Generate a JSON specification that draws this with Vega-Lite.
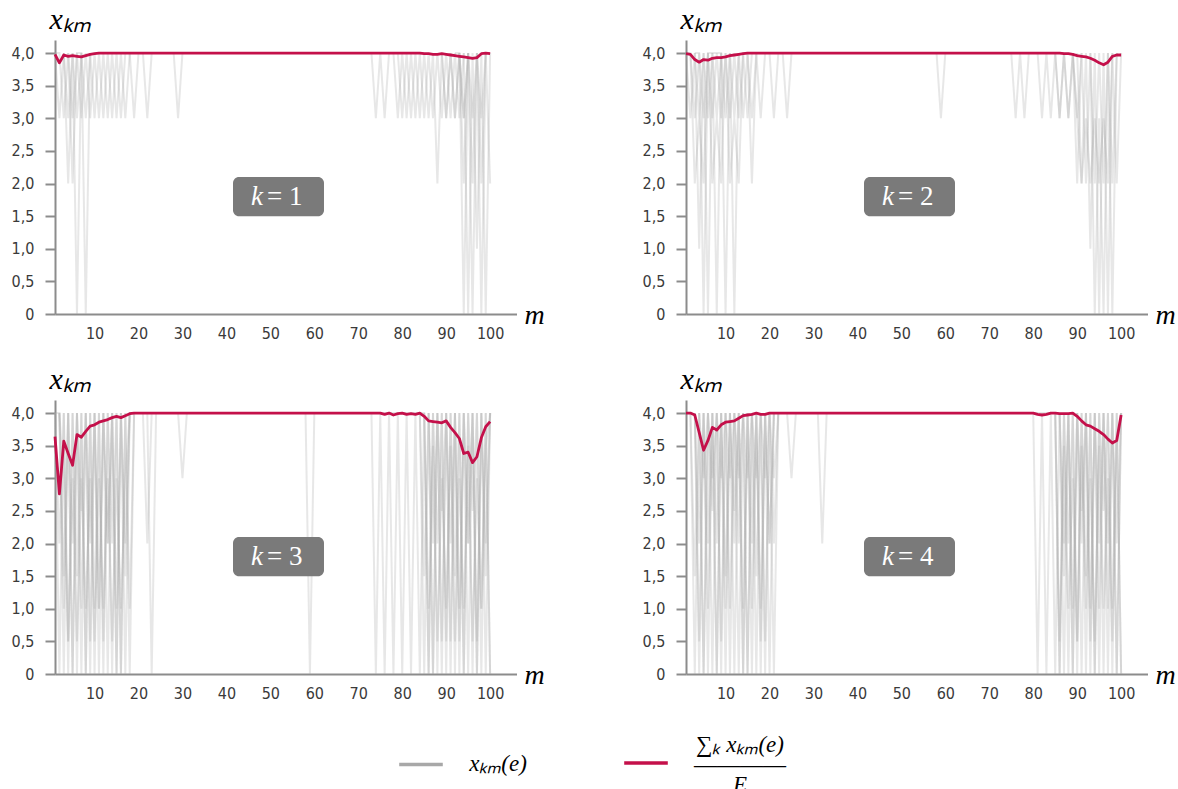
{
"$schema": "https://vega.github.io/schema/vega-lite/v6.json",
"padding": {"left": 11, "top": 4, "right": 0, "bottom": 0},
"background": "white",
"config": {
  "view": {"stroke": null},
  "axisX": {"tickCount": 10, "grid": false, "ticks": false, "tickSize": 0,
            "domainColor": "#8c8c8c", "domainWidth": 2, "labelOverlap": false,
            "labelFont": "DejaVu Sans Condensed", "labelFontSize": 16, "labelColor": "#3a3a3a", "labelPadding": 11,
            "titleFont": "Liberation Serif", "titleFontStyle": "italic", "titleFontWeight": "normal",
            "titleFontSize": 28, "titleColor": "black", "titleX": 479, "titleY": 9, "titleAlign": "center", "titleBaseline": "alphabetic"},
  "axisY": {"tickCount": 9, "grid": false, "labelOverlap": false,
            "labelExpr": "datum.value == 0 ? '0' : replace(format(datum.value, '.1f'), '.', ',')",
            "tickSize": 10, "tickColor": "#8c8c8c", "tickWidth": 2,
            "domainColor": "#8c8c8c", "domainWidth": 2,
            "labelFont": "DejaVu Sans Condensed", "labelFontSize": 16, "labelColor": "#3a3a3a", "labelPadding": 11,
            "titleFont": "Liberation Serif", "titleFontStyle": "italic", "titleFontWeight": "normal",
            "titleFontSize": 30, "titleColor": "black", "titleAngle": 0, "titleX": -6, "titleY": -12,
            "titleAlign": "left", "titleBaseline": "alphabetic"}
},
"data": {"values": [
{"t":"g","k":1,"e":"a","m":[1,2,3,4,5,6,7,8,9,10,11,12,13,14,15,16,17],"v":[4,3,4,3,4,3,4,3,4,3,4,3,4,3,4,3,4]},
{"t":"g","k":1,"e":"b","m":[1,2,3,4,5,6,7,8,9,10,11,12,13,14,15,16,17,18],"v":[4,4,3,4,3,4,3,4,3,4,3,4,3,4,3,4,3,4]},
{"t":"g","k":1,"e":"c","m":[3,4,5,6,7],"v":[4,2,4,0,4]},
{"t":"g","k":1,"e":"d","m":[4,5,6,7,8,9],"v":[4,2,4,4,0,4]},
{"t":"g","k":1,"e":"e","m":[18,19,20,21,22,23,28,29,30],"v":[4,3,4,4,3,4,4,3,4]},
{"t":"g","k":1,"e":"f","m":[73,74,75,76,77,78,79,80,81,82,83,84,85,86,87,88,89,90,91,92,93,94],"v":[4,3,4,3,4,4,3,4,3,4,3,4,3,4,3,4,3,4,3,4,3,4]},
{"t":"g","k":1,"e":"g","m":[79,80,81,82,83,84,85,86,87,88,89,90,91,92,93,94,95],"v":[4,3,4,3,4,3,4,3,4,2,4,3,4,3,4,3,4]},
{"t":"g","k":1,"e":"h","m":[92,93,94,95,96,97,98,99],"v":[4,4,2,4,2,4,2,4]},
{"t":"g","k":1,"e":"i","m":[93,94,95,96,97,98,99,100],"v":[4,0,4,0,4,0,4,2]},
{"t":"g","k":1,"e":"j","m":[94,95,96,97,98,99,100],"v":[4,0,4,1,4,0,4]},
{"t":"g","k":1,"e":"k","m":[89,90,91,92,93,94,95,96,97,98,99,100],"v":[4,3,4,3,4,3,4,3,4,3,4,4]},
{"t":"g","k":2,"e":"a","m":[1,2,3,4,5,6,7,8,9,10,11,12,13,14,15,16,17,18,19,20,21,22,23,24,25],"v":[4,3,4,3,4,3,4,3,4,3,4,3,4,3,4,3,4,3,4,4,3,4,4,3,4]},
{"t":"g","k":2,"e":"b","m":[1,2,3,4,5,6,7,8,9,10,11,12,13,14,15,16],"v":[4,4,3,4,3,4,3,4,3,4,3,4,3,4,3,4]},
{"t":"g","k":2,"e":"c","m":[2,3,4,5,6,7,8,9,10,11,12,13,14,15],"v":[4,2,3,2,4,2,3,2,4,2,3,2,4,4]},
{"t":"g","k":2,"e":"d","m":[3,4,5,6,7,8,9],"v":[4,1,4,0,4,0,4]},
{"t":"g","k":2,"e":"e","m":[3,4,5,6,7,8,9,10,11,12,13],"v":[4,4,0,4,4,4,4,0,4,0,4]},
{"t":"g","k":2,"e":"f","m":[15,16,17,58,59,60],"v":[4,2,4,4,3,4]},
{"t":"g","k":2,"e":"g","m":[75,76,77,78,79,80,81,82,83,84,85,86,87,88,89,90,91],"v":[4,3,4,3,4,4,4,3,4,3,4,3,4,3,4,3,4]},
{"t":"g","k":2,"e":"h","m":[84,85,86,87,88,89,90,91,92,93,94,95,96,97,98,99],"v":[4,4,3,4,3,4,2,4,2,4,2,4,2,4,2,4]},
{"t":"g","k":2,"e":"i","m":[90,91,92,93,94,95,96,97,98,99,100],"v":[4,2,4,1,4,0,4,0,4,2,4]},
{"t":"g","k":2,"e":"j","m":[93,94,95,96,97,98,99],"v":[4,0,3,0,4,0,4]},
{"t":"g","k":2,"e":"k","m":[89,90,91,92,93,94,95,96,97,98],"v":[4,3,2,3,2,3,2,3,2,4]},
{"t":"g","k":3,"e":"a","m":[1,2,3,4,5,6,7,8,9,10,11,12,13,14,15,16,17,18,19],"v":[4,0,4,0,4,0,4,0,4,0,4,0,4,0,4,0,4,0,4]},
{"t":"g","k":3,"e":"b","m":[2,3,4,5,6,7,8,9,10,11,12,13,14,15,16,17,18],"v":[4,0,4,0,4,0,4,0,4,0,4,0,4,0,4,0,4]},
{"t":"g","k":3,"e":"c","m":[1,2,3,4,5,6,7,8,9,10,11,12,13,14,15,16,17,18,19],"v":[4,4,1,4,2,4,1,4,2,4,1,4,2,4,1,4,2,4,4]},
{"t":"g","k":3,"e":"d","m":[2,3,4,5,6,7,8,9,10,11,12,13,14,15,16,17,18],"v":[4,3,0.5,3,0.5,3,1,3,0.5,3,1,3,0.5,3,1,3,4]},
{"t":"g","k":3,"e":"l","m":[1,2,3,4,5,6,7,8,9,10,11,12,13,14,15,16,17,18,19],"v":[4,2,4,0.5,4,1.5,4,0,4,1,4,0.5,4,2,4,0,4,1,4]},
{"t":"g","k":3,"e":"n","m":[2,3,4,5,6,7,8,9,10,11,12,13,14,15,16,17,18],"v":[4,1.5,4,0,4,2.5,4,0.5,4,1,4,2,4,0,4,1.5,4]},
{"t":"g","k":3,"e":"e","m":[21,22,23,29,30,31],"v":[4,2,4,4,3,4]},
{"t":"g","k":3,"e":"f","m":[22,23,24,58,59,60],"v":[4,0,4,4,0,4]},
{"t":"g","k":3,"e":"g","m":[73,74,75,76,77,78,79,80,81,82,83,84,85,86,87,88,89,90,91,92,93,94,95,96,97,98,99,100],"v":[4,0,4,0,4,0,4,0,4,0,4,0,4,0,4,0,4,0,4,0,4,0,4,0,4,0,4,0]},
{"t":"g","k":3,"e":"h","m":[84,85,86,87,88,89,90,91,92,93,94,95,96,97,98,99,100],"v":[4,0,4,0,4,0,4,0,4,0,4,0,4,0,4,0,4]},
{"t":"g","k":3,"e":"i","m":[85,86,87,88,89,90,91,92,93,94,95,96,97,98,99,100],"v":[4,1,3.5,0.5,3,1,3.5,0.5,3,1,3.5,0.5,3,1,3.5,4]},
{"t":"g","k":3,"e":"k","m":[86,87,88,89,90,91,92,93,94,95,96,97,98,99,100],"v":[4,2,4,0.5,4,2,4,0.5,4,2,4,0.5,4,2,4]},
{"t":"g","k":3,"e":"m","m":[84,85,86,87,88,89,90,91,92,93,94,95,96,97,98,99,100],"v":[4,1.5,4,0,4,2.5,4,0.5,4,1,4,2,4,0,4,1.5,4]},
{"t":"g","k":3,"e":"n","m":[85,86,87,88,89,90,91,92,93,94,95,96,97,98,99,100],"v":[4,0,4,2,4,0.5,4,1.5,4,0,4,2.5,4,1,4,0]},
{"t":"g","k":4,"e":"a","m":[2,3,4,5,6,7,8,9,10,11,12,13,14,15,16,17,18,19,20,21,22],"v":[4,0,4,0,4,0,4,0,4,0,4,0,4,0,4,0,4,0,4,0,4]},
{"t":"g","k":4,"e":"b","m":[3,4,5,6,7,8,9,10,11,12,13,14,15,16,17,18,19,20,21],"v":[4,0,4,0,4,0,4,0,4,0,4,0,4,0,4,0,4,0,4]},
{"t":"g","k":4,"e":"c","m":[3,4,5,6,7,8,9,10,11,12,13,14,15,16,17,18,19,20,21],"v":[4,2,4,1,4,2,4,1,4,2,4,1,4,2,4,1,4,2,4]},
{"t":"g","k":4,"e":"d","m":[4,5,6,7,8,9,10,11,12,13,14,15,16,17,18,19,20,21,22],"v":[4,3,4,3,4,3,4,3,4,3,4,3,4,3,4,3,4,3,4]},
{"t":"g","k":4,"e":"l","m":[2,3,4,5,6,7,8,9,10,11,12,13,14,15,16,17,18,19,20,21,22],"v":[4,1.5,4,0,4,2.5,4,0.5,4,1,4,2,4,0,4,1.5,4,0.5,4,2,4]},
{"t":"g","k":4,"e":"n","m":[3,4,5,6,7,8,9,10,11,12,13,14,15,16,17,18,19,20,21],"v":[4,0.5,4,2,4,0,4,1.5,4,2.5,4,0,4,1,4,0.5,4,2,4]},
{"t":"g","k":4,"e":"e","m":[24,25,26,31,32,33],"v":[4,3,4,4,2,4]},
{"t":"g","k":4,"e":"f","m":[80,81,82,83,84,85,86,87,88,89,90,91,92,93,94,95,96,97,98,99,100],"v":[4,0,4,0,4,0,4,0,4,0,4,0,4,0,4,0,4,0,4,0,4]},
{"t":"g","k":4,"e":"g","m":[85,86,87,88,89,90,91,92,93,94,95,96,97,98,99,100],"v":[4,0,4,0,4,0,4,0,4,0,4,0,4,0,4,0]},
{"t":"g","k":4,"e":"h","m":[85,86,87,88,89,90,91,92,93,94,95,96,97,98,99,100],"v":[4,0.5,3.5,1,3,0.5,3.5,1,3,0.5,3.5,1,3,0.5,3.5,4]},
{"t":"g","k":4,"e":"i","m":[86,87,88,89,90,91,92,93,94,95,96,97,98,99,100],"v":[4,2,4,1,4,2,4,1,4,2,4,1,4,2,4]},
{"t":"g","k":4,"e":"m","m":[86,87,88,89,90,91,92,93,94,95,96,97,98,99,100],"v":[4,1.5,4,0,4,2.5,4,0.5,4,1,4,2,4,0,4]},
{"t":"g","k":4,"e":"n","m":[85,86,87,88,89,90,91,92,93,94,95,96,97,98,99,100],"v":[4,0,4,2,4,0.5,4,1.5,4,0,4,2.5,4,1,4,0]},
{"t":"r","k":1,"m":[1,2,3,4,5,6,7,8,9,10,11,84,85,86,87,88,89,90,91,92,93,94,95,96,97,98,99,100],"v":[3.98,3.85,3.97,3.95,3.96,3.95,3.94,3.96,3.98,3.99,4,4,3.99,3.99,3.98,3.98,3.99,3.98,3.97,3.96,3.95,3.94,3.93,3.92,3.93,3.99,4,3.99]},
{"t":"r","k":2,"m":[1,2,3,4,5,6,7,8,9,10,11,12,13,14,15,84,85,86,87,88,89,90,91,92,93,94,95,96,97,98,99,100],"v":[3.99,3.98,3.9,3.86,3.9,3.89,3.92,3.93,3.93,3.94,3.96,3.97,3.98,3.99,4,4,4,4,3.99,3.99,3.98,3.96,3.95,3.94,3.92,3.89,3.85,3.82,3.86,3.95,3.97,3.97]},
{"t":"r","k":3,"m":[1,2,3,4,5,6,7,8,9,10,11,12,13,14,15,16,17,18,19,74,75,76,77,78,79,80,81,82,83,84,85,86,87,88,89,90,91,92,93,94,95,96,97,98,99,100],"v":[3.64,2.76,3.57,3.38,3.2,3.67,3.63,3.72,3.8,3.82,3.86,3.88,3.9,3.93,3.95,3.93,3.96,3.99,4,4,4,3.98,4,3.97,3.99,4,3.98,3.99,3.98,4,3.95,3.88,3.87,3.86,3.85,3.88,3.78,3.7,3.61,3.38,3.4,3.24,3.33,3.62,3.79,3.87]},
{"t":"r","k":4,"m":[1,2,3,4,5,6,7,8,9,10,11,12,13,14,15,16,17,18,19,20,21,80,81,82,83,84,85,86,87,88,89,90,91,92,93,94,95,96,97,98,99,100],"v":[4,4,3.97,3.7,3.43,3.58,3.78,3.74,3.82,3.86,3.87,3.88,3.92,3.96,3.97,3.98,4,3.98,3.98,4,4,4,3.98,3.97,3.98,4,4,3.99,3.99,3.99,4,3.95,3.88,3.82,3.8,3.76,3.72,3.67,3.6,3.54,3.58,3.97]},
{"t":"b","k":1,"lab":"= 1"},
{"t":"b","k":2,"lab":"= 2"},
{"t":"b","k":3,"lab":"= 3"},
{"t":"b","k":4,"lab":"= 4"}
]},
"facet": {"field": "k", "type": "ordinal", "header": {"labels": false, "title": null, "labelFontSize": 0, "labelPadding": 0}},
"columns": 2,
"spacing": {"row": 86, "column": 169},
"bounds": "flush",
"resolve": {"axis": {"x": "independent", "y": "independent"}},
"spec": {
  "width": 461.5,
  "height": 274,
  "layer": [
    {
      "transform": [{"filter": "datum.t === 'g'"}, {"flatten": ["m", "v"]}],
      "mark": {"type": "line", "strokeWidth": 2, "opacity": 0.28},
      "encoding": {
        "x": {"field": "m", "type": "quantitative",
              "scale": {"domain": [1, 106], "nice": false, "zero": false},
              "axis": {"values": [10,20,30,40,50,60,70,80,90,100], "title": "m"}},
        "y": {"field": "v", "type": "quantitative",
              "scale": {"domain": [0, 4.2], "nice": false},
              "axis": {"values": [0,0.5,1,1.5,2,2.5,3,3.5,4], "title": "xₖₘ"}},
        "detail": {"field": "e"},
        "color": {"datum": "x",
                  "scale": {"domain": ["x", "mean"], "range": ["#a8a8a8", "#c4104a"]},
                  "legend": {"orient": "none", "legendX": 342, "legendY": 699, "direction": "horizontal", "title": null,
                             "symbolType": "stroke", "symbolStrokeWidth": 3.5, "symbolSize": 1900, "symbolOpacity": 1,
                             "labelFont": "Liberation Serif", "labelFontStyle": "italic", "labelFontSize": 23, "labelColor": "black",
                             "labelOffset": 24, "columnPadding": 90, "labelLimit": 400, "labelAlign": "center",
                             "labelExpr": "datum.value === 'x' ? [' ', 'xₖₘ(e)', ' '] : ['∑ₖ xₖₘ(e)', '――――', 'E']",
                             "encode": {"labels": {"update": {"lineHeight": {"value": 20},
                                                              "dy": {"signal": "datum.value === 'x' ? -21 : -18"},
                                                              "dx": {"signal": "datum.value === 'x' ? 29 : 46"}}}}}}
      }
    },
    {
      "transform": [{"filter": "datum.t === 'r'"}, {"flatten": ["m", "v"]}],
      "mark": {"type": "line", "strokeWidth": 2.8, "strokeJoin": "round"},
      "encoding": {
        "x": {"field": "m", "type": "quantitative", "axis": {"values": [10,20,30,40,50,60,70,80,90,100], "title": "m"}},
        "y": {"field": "v", "type": "quantitative", "axis": {"values": [0,0.5,1,1.5,2,2.5,3,3.5,4], "title": "xₖₘ"}},
        "color": {"datum": "mean"}
      }
    },
    {
      "transform": [{"filter": "datum.t === 'b'"}],
      "mark": {"type": "rect", "fill": "#7a7a7a", "cornerRadius": 6},
      "encoding": {"x": {"datum": 41.5}, "x2": {"datum": 62.2}, "y": {"datum": 2.1}, "y2": {"datum": 1.5}}
    },
    {
      "transform": [{"filter": "datum.t === 'b'"}],
      "mark": {"type": "text", "text": "k", "font": "Liberation Serif", "fontStyle": "italic", "fontSize": 27,
               "fill": "white", "align": "right", "baseline": "middle", "dx": -13},
      "encoding": {"x": {"datum": 51.3}, "y": {"datum": 1.8}}
    },
    {
      "transform": [{"filter": "datum.t === 'b'"}],
      "mark": {"type": "text", "font": "Liberation Serif", "fontSize": 27,
               "fill": "white", "align": "left", "baseline": "middle", "dx": -9},
      "encoding": {"x": {"datum": 51.3}, "y": {"datum": 1.8}, "text": {"field": "lab"}}
    }
  ]
}
}
